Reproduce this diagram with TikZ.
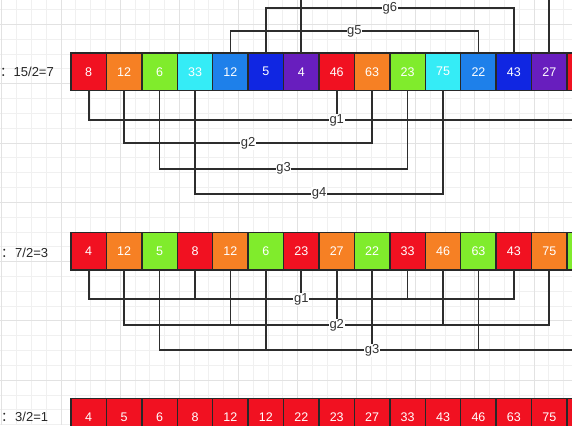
\documentclass[tikz,border=0pt]{standalone}
\usepackage{fontspec}
\setmainfont{Liberation Sans}
\newfontfamily\cjk{Noto Sans CJK SC}
\usetikzlibrary{calc}
\definecolor{cred}{RGB}{241,17,33}
\definecolor{corange}{RGB}{246,128,36}
\definecolor{cgreen}{RGB}{128,236,44}
\definecolor{ccyan}{RGB}{53,236,246}
\definecolor{cblue}{RGB}{30,128,234}
\definecolor{cdblue}{RGB}{16,38,226}
\definecolor{cpurple}{RGB}{104,30,190}
\definecolor{cborder}{RGB}{40,40,40}
\definecolor{cline}{RGB}{45,45,45}
\definecolor{gminor}{RGB}{240,240,240}
\definecolor{gmajor}{RGB}{226,226,226}
\begin{document}
\begin{tikzpicture}[x=1pt,y=-1pt,
  cell/.style={draw=cborder, line width=1.5pt, minimum width=35.43pt, minimum height=37.5pt,
    inner sep=0pt, outer sep=0pt, text=white, font=\fontsize{12.5}{14}\selectfont, anchor=north west},
  conn/.style={draw=cline, line width=1.7pt},
  lbl/.style={fill=white, inner sep=0.6pt, text=black!80, font=\fontsize{13}{15}\selectfont},
  side/.style={anchor=west, inner sep=0pt, text=black!85, font=\fontsize{13}{15}\selectfont},
  minorg/.style={draw=gminor, line width=0.8pt},
  majorg/.style={draw=gmajor, line width=0.9pt}]
\useasboundingbox (0,0) rectangle (572,425);
\clip (0,0) rectangle (572,425);
% grid
\foreach \k in {-4,...,35} \draw[minorg] ({61+14.78*\k},0) -- ({61+14.78*\k},425);
\foreach \k in {-10,...,19} \draw[minorg] (0,{143+14.82*\k}) -- (572,{143+14.82*\k});
\foreach \k in {-1,...,8} \draw[majorg] ({61+59.12*\k},0) -- ({61+59.12*\k},425);
\foreach \k in {-3,...,4} \draw[majorg] (0,{143+59.28*\k}) -- (572,{143+59.28*\k});
% side labels
\node[side] (t1) at (0,72.3) {{\cjk ：}\kern0.5pt 15/2=7};
\node[side] (t2) at (1.0,252.5) {{\cjk ：}\kern1pt 7/2=3};
\node[side] (t3) at (1.0,416.5) {{\cjk ：}\kern1pt 3/2=1};
% rows
\foreach \v/\c [count=\k from 0] in {8/cred,12/corange,6/cgreen,33/ccyan,12/cblue,5/cdblue,4/cpurple,46/cred,63/corange,23/cgreen,75/ccyan,22/cblue,43/cdblue,27/cpurple,/cred}
  \node[cell, fill=\c] (a\k) at ({71+35.43*\k},53) {\v};
\foreach \v/\c [count=\k from 0] in {4/cred,12/corange,5/cgreen,8/cred,12/corange,6/cgreen,23/cred,27/corange,22/cgreen,33/cred,46/corange,63/cgreen,43/cred,75/corange,/cgreen}
  \node[cell, fill=\c] (b\k) at ({71+35.43*\k},232.7) {\v};
\foreach \v [count=\k from 0] in {4,5,6,8,12,12,22,23,27,33,43,46,63,75,{}}
  \node[cell, fill=cred] (c\k) at ({71+35.43*\k},398.3) {\v};
% row 1 connectors (gap 7)
\coordinate (m1) at (a7.south |- 0,120);
\coordinate (m2) at ($(a1.south)!0.5!(a8.south)$);
\coordinate (m2) at (m2 |- 0,143.3);
\coordinate (m3) at ($(a2.south)!0.5!(a9.south)$);
\coordinate (m3) at (m3 |- 0,168.7);
\coordinate (m4) at ($(a3.south)!0.5!(a10.south)$);
\coordinate (m4) at (m4 |- 0,193.7);
\coordinate (m5) at ($(a4.north)!0.5!(a11.north)$);
\coordinate (m5) at (m5 |- 0,31);
\coordinate (m6) at ($(a5.north)!0.5!(a12.north)$);
\coordinate (m6) at (m6 |- 0,8);
\coordinate (m7) at ($(a6.north)!0.5!(a13.north)$);
\coordinate (m7) at (m7 |- 0,-15);
\draw[conn] (a0.south) |- (m1) -| (a14.south);
\draw[conn] (a7.south) -- (m1);
\draw[conn] (a1.south) |- (m2) -| (a8.south);
\draw[conn] (a2.south) |- (m3) -| (a9.south);
\draw[conn] (a3.south) |- (m4) -| (a10.south);
\draw[conn] (a4.north) |- (m5) -| (a11.north);
\draw[conn] (a5.north) |- (m6) -| (a12.north);
\draw[conn] (a6.north) |- (m7) -| (a13.north);
\node[lbl] (l1) at (m1) {g1};
\node[lbl] (l2) at (m2) {g2};
\node[lbl] (l3) at (m3) {g3};
\node[lbl] (l4) at (m4) {g4};
\node[lbl] (l5) at (m5) {g5};
\node[lbl] (l6) at (m6) {g6};
% row 2 connectors (gap 3)
\coordinate (n1) at (b6.south |- 0,299.3);
\coordinate (n2) at (b7.south |- 0,325);
\coordinate (n3) at (b8.south |- 0,350.3);
\draw[conn] (b0.south) |- (n1) -| (b12.south);
\draw[conn] (b3.south) -- (b3.south |- n1);
\draw[conn] (b6.south) -- (n1);
\draw[conn] (b9.south) -- (b9.south |- n1);
\draw[conn] (b1.south) |- (n2) -| (b13.south);
\draw[conn] (b4.south) -- (b4.south |- n2);
\draw[conn] (b7.south) -- (n2);
\draw[conn] (b10.south) -- (b10.south |- n2);
\draw[conn] (b2.south) |- (n3) -| (b14.south);
\draw[conn] (b5.south) -- (b5.south |- n3);
\draw[conn] (b8.south) -- (n3);
\draw[conn] (b11.south) -- (b11.south |- n3);
\node[lbl] (k1) at (n1) {g1};
\node[lbl] (k2) at (n2) {g2};
\node[lbl] (k3) at (n3) {g3};
\end{tikzpicture}
\end{document}
